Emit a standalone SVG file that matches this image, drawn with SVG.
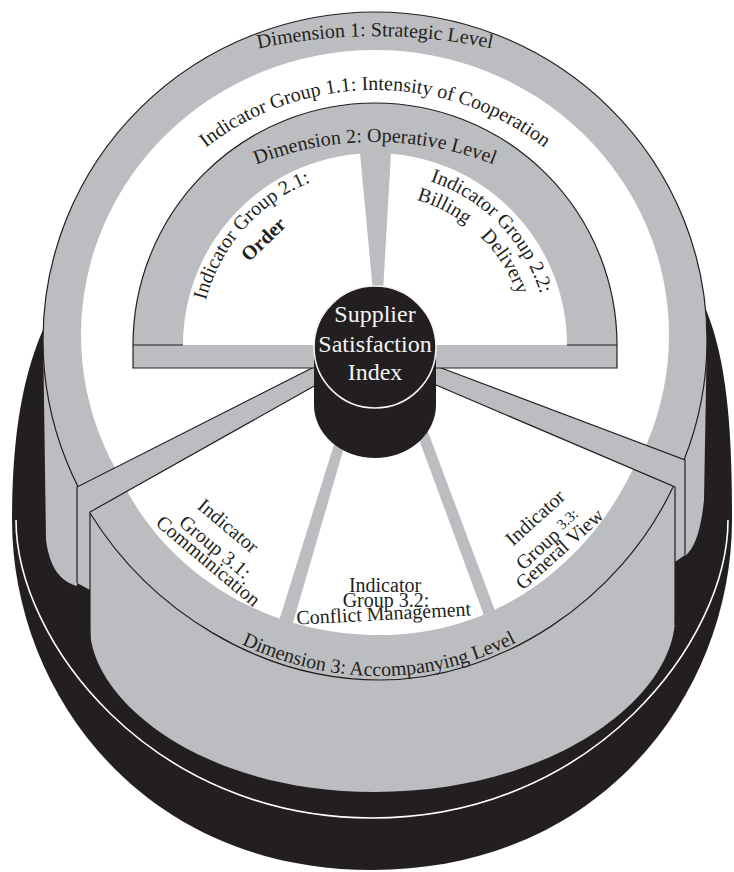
<svg xmlns="http://www.w3.org/2000/svg" width="734" height="872" viewBox="0 0 734 872">
<style>
.gray{fill:#bcbdc0}
.blk{fill:#231f20}
.wht{fill:#ffffff}
.edge{fill:none;stroke:#231f20;stroke-width:1.2;stroke-linejoin:miter}
.lbl{font-family:"Liberation Serif","Times New Roman",serif;font-size:20px;fill:#231f20}
.mid{text-anchor:middle}
.core{font-family:"Liberation Serif","Times New Roman",serif;font-size:24px;fill:#f4f4f4;text-anchor:middle}
</style>
<defs>
  <path id="arc-dim1" d="M 54,137.3 A 560,560 0 0 1 696,137.3"/>
  <path id="arc-ig11" d="M 97,368 A 278,278 0 0 1 653,368"/>
  <path id="arc-dim2" d="M 168,217.3 A 322,322 0 0 1 582,217.3"/>
  <path id="arc-ig21" d="M 200,345 A 175,175 0 0 1 375,170"/>
  <path id="arc-ig22a" d="M 375,172 A 173,173 0 0 1 548,345"/>
  <path id="arc-ig22b" d="M 375,194 A 151,151 0 0 1 526,345"/>
  <path id="arc-dim3" d="M 90,509 C 150,606 260,676 380,676 C 500,676 620,596 673,483"/>
</defs>

<!-- black base cylinder with its white rim line -->
<g id="base">
  <path class="blk" d="M 90,260 C 30,320 12,410 12,520 C 12,690 140,870 372,870 C 604,870 732,690 732,520 C 732,400 724,300 664,250 Z"/>
  <path d="M 16,520 C 16,640 150,818 372,818 C 594,818 728,640 728,520" fill="none" stroke="#ffffff" stroke-width="1.6"/>
</g>

<!-- dimension 1: outer disc and its white ring -->
<g id="dimension-1">
  <path class="gray" d="M 43,330 L 46,540 C 50,570 62,582 77,586 L 77,480 L 60,420 Z"/>
  <path class="gray" d="M 707,330 L 704,500 C 701,530 695,548 685,556 L 685,455 L 695,420 Z"/>
  <ellipse class="gray" cx="375" cy="340" rx="332" ry="328" stroke="#231f20" stroke-width="1.2"/>
  <ellipse class="wht" cx="375" cy="335" rx="294" ry="285"/>
</g>

<!-- side spokes dividing the upper and lower halves -->
<g id="side-spokes">
  <polygon class="gray" points="316,366 77,487 77,583 90,590 90,512 316,385"/>
  <polygon class="gray" points="436,366 685,460 685,555 675,562 675,487 436,385"/>
  <path class="edge" d="M 316,366 L 77,487 L 77,583"/>
  <path class="edge" d="M 436,366 L 685,460 L 685,555"/>
</g>

<!-- dimension 3: raised front sector -->
<g id="dimension-3">
  <path class="gray" d="M 90,512 L 316,385 L 436,385 L 675,487 L 675,620 C 672,700 550,792 375,792 C 200,792 92,700 90,630 Z"/>
  <path class="wht" d="M 127,491 L 316,385 L 436,385 L 633,469 C 590,560 500,635 380,635 C 260,635 170,570 127,491 Z"/>
  <polygon class="gray" points="337,435 347,437 288,640 273,640"/>
  <polygon class="gray" points="415.5,430 426.5,428 506,640 493,640"/>
  <path class="edge" d="M 90,513 C 150,610 260,680 380,680 C 500,680 620,600 673,487"/>
  <path class="edge" d="M 316,385 L 90,512 L 90,640"/>
  <path class="edge" d="M 436,385 L 675,487 L 675,625"/>
</g>

<!-- dimension 2: half disc with its front face -->
<g id="dimension-2">
  <path class="gray" d="M 133,345 A 242,242 0 0 1 617,345 L 567,345 A 192,192 0 0 0 183,345 Z"/>
  <path class="edge" d="M 133,345 A 242,242 0 0 1 617,345"/>
  <rect class="gray" x="133" y="345" width="484" height="23"/>
  <path class="edge" d="M 133,345 V 368 H 617 V 345 M 133,345 H 183 M 567,345 H 617"/>
  <polygon class="gray" points="360,153 391,153 383,292 373,292"/>
</g>

<!-- central index cylinder -->
<g id="index">
  <path class="blk" d="M 314,347 L 314,405 A 61,53 0 0 0 436,405 L 436,347 Z"/>
  <ellipse class="blk" cx="375" cy="347" rx="61" ry="61" stroke="#f4f4f4" stroke-width="1.6"/>
  <text class="core" x="375" y="322">Supplier</text>
  <text class="core" x="375" y="352">Satisfaction</text>
  <text class="core" x="375" y="380">Index</text>
</g>

<!-- labels -->
<g id="labels-dimension-1">
  <text class="lbl"><textPath href="#arc-dim1" startOffset="50%" text-anchor="middle">Dimension 1: Strategic Level</textPath></text>
  <text class="lbl"><textPath href="#arc-ig11" startOffset="50%" text-anchor="middle">Indicator Group 1.1: Intensity of Cooperation</textPath></text>
</g>
<g id="labels-dimension-2">
  <text class="lbl"><textPath href="#arc-dim2" startOffset="50%" text-anchor="middle">Dimension 2: Operative Level</textPath></text>
  <text class="lbl"><textPath href="#arc-ig21" startOffset="127" text-anchor="middle">Indicator Group 2.1:</textPath></text>
  <text class="lbl" transform="translate(268,244) rotate(-44)" text-anchor="middle" font-size="14" font-weight="bold">Order</text>
  <text class="lbl"><textPath href="#arc-ig22a" startOffset="138" text-anchor="middle">Indicator Group 2.2:</textPath></text>
  <text class="lbl" font-size="19"><textPath href="#arc-ig22b" startOffset="42">Billing</textPath></text>
  <text class="lbl" font-size="19"><textPath href="#arc-ig22b" startOffset="116">Delivery</textPath></text>
</g>
<g id="labels-dimension-3">
  <text class="lbl mid" transform="translate(224,531) rotate(40)">Indicator</text>
  <text class="lbl mid" transform="translate(211,552) rotate(40)">Group 3.1:</text>
  <text class="lbl mid" transform="translate(204,566) rotate(40)">Communication</text>
  <text class="lbl mid" x="385" y="592" font-size="19.5">Indicator</text>
  <text class="lbl mid" x="386" y="607" font-size="19.5">Group 3.2:</text>
  <text class="lbl mid" transform="translate(384,620) rotate(-3)" font-size="19.5">Conflict Management</text>
  <text class="lbl mid" transform="translate(539.5,522.5) rotate(-42)">Indicator</text>
  <text class="lbl mid" transform="translate(552.5,544.5) rotate(-42)">Group <tspan font-size="15" dy="-4">3.3:</tspan></text>
  <text class="lbl mid" transform="translate(564,554) rotate(-42)">General View</text>
  <text class="lbl"><textPath href="#arc-dim3" startOffset="48.5%" text-anchor="middle">Dimension 3:  Accompanying Level</textPath></text>
</g>
</svg>
